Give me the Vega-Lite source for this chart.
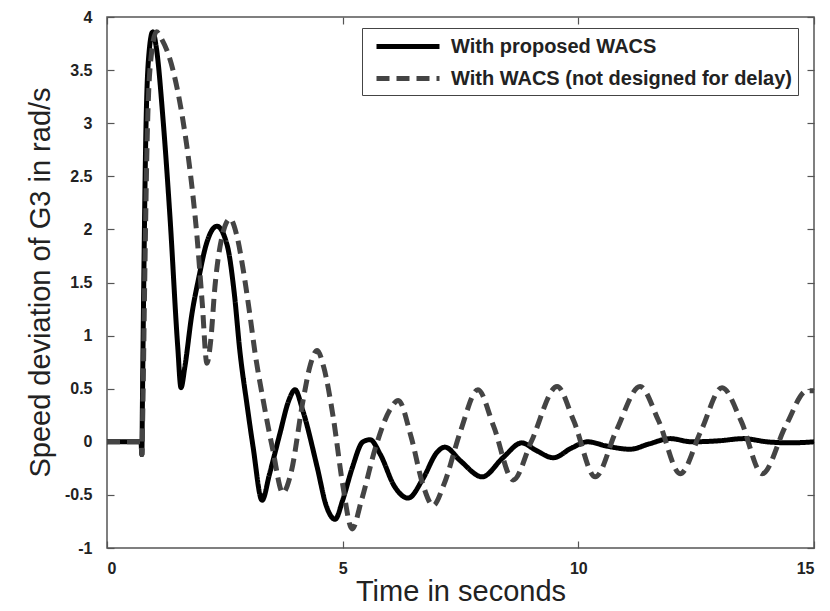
{
  "$schema": "https://vega.github.io/schema/vega-lite/v6.json",
  "width": 707,
  "height": 531,
  "autosize": {"type": "none"},
  "padding": {"left": 107, "top": 17, "right": 16, "bottom": 63},
  "background": "white",
  "config": {
    "view": {"stroke": "#555", "strokeWidth": 1.5},
    "font": "Liberation Sans",
    "axis": {
      "domain": false, "grid": false, "tickColor": "#555", "tickSize": -7, "tickWidth": 1.2,
      "labelFont": "Liberation Sans", "labelFontSize": 16, "labelFontWeight": "bold", "labelColor": "#222",
      "titleFont": "Liberation Sans", "titleFontSize": 29, "titleFontWeight": "normal", "titleColor": "#222"
    },
    "legend": {
      "labelFont": "Liberation Sans", "labelFontSize": 20, "labelFontWeight": "bold", "labelColor": "#222", "labelLimit": 0
    }
  },
  "data": {"values": [
    {"t": 0, "v": 0, "series": "With proposed WACS"},
    {"t": 0.72, "v": 0, "series": "With proposed WACS"},
    {"t": 0.74, "v": -0.12, "series": "With proposed WACS"},
    {"t": 0.75, "v": 0.3, "series": "With proposed WACS"},
    {"t": 0.78, "v": 1.5, "series": "With proposed WACS"},
    {"t": 0.82, "v": 2.8, "series": "With proposed WACS"},
    {"t": 0.88, "v": 3.6, "series": "With proposed WACS"},
    {"t": 0.97, "v": 3.86, "series": "With proposed WACS"},
    {"t": 1.05, "v": 3.7, "series": "With proposed WACS"},
    {"t": 1.19, "v": 3.03, "series": "With proposed WACS"},
    {"t": 1.34, "v": 2.09, "series": "With proposed WACS"},
    {"t": 1.5, "v": 0.9, "series": "With proposed WACS"},
    {"t": 1.57, "v": 0.51, "series": "With proposed WACS"},
    {"t": 1.65, "v": 0.7, "series": "With proposed WACS"},
    {"t": 1.8, "v": 1.2, "series": "With proposed WACS"},
    {"t": 1.95, "v": 1.55, "series": "With proposed WACS"},
    {"t": 2.1, "v": 1.85, "series": "With proposed WACS"},
    {"t": 2.33, "v": 2.03, "series": "With proposed WACS"},
    {"t": 2.55, "v": 1.85, "series": "With proposed WACS"},
    {"t": 2.7, "v": 1.4, "series": "With proposed WACS"},
    {"t": 2.82, "v": 0.85, "series": "With proposed WACS"},
    {"t": 2.97, "v": 0.35, "series": "With proposed WACS"},
    {"t": 3.1, "v": -0.05, "series": "With proposed WACS"},
    {"t": 3.29, "v": -0.55, "series": "With proposed WACS"},
    {"t": 3.45, "v": -0.3, "series": "With proposed WACS"},
    {"t": 3.67, "v": 0.08, "series": "With proposed WACS"},
    {"t": 3.85, "v": 0.38, "series": "With proposed WACS"},
    {"t": 3.99, "v": 0.49, "series": "With proposed WACS"},
    {"t": 4.15, "v": 0.3, "series": "With proposed WACS"},
    {"t": 4.46, "v": -0.24, "series": "With proposed WACS"},
    {"t": 4.65, "v": -0.6, "series": "With proposed WACS"},
    {"t": 4.84, "v": -0.73, "series": "With proposed WACS"},
    {"t": 5.0, "v": -0.55, "series": "With proposed WACS"},
    {"t": 5.2, "v": -0.25, "series": "With proposed WACS"},
    {"t": 5.43, "v": 0.0, "series": "With proposed WACS"},
    {"t": 5.58, "v": 0.02, "series": "With proposed WACS"},
    {"t": 5.8, "v": -0.12, "series": "With proposed WACS"},
    {"t": 6.1, "v": -0.42, "series": "With proposed WACS"},
    {"t": 6.39, "v": -0.53, "series": "With proposed WACS"},
    {"t": 6.7, "v": -0.35, "series": "With proposed WACS"},
    {"t": 7.0, "v": -0.1, "series": "With proposed WACS"},
    {"t": 7.17, "v": -0.05, "series": "With proposed WACS"},
    {"t": 7.5, "v": -0.18, "series": "With proposed WACS"},
    {"t": 7.96, "v": -0.33, "series": "With proposed WACS"},
    {"t": 8.4, "v": -0.15, "series": "With proposed WACS"},
    {"t": 8.8, "v": -0.01, "series": "With proposed WACS"},
    {"t": 9.1, "v": -0.08, "series": "With proposed WACS"},
    {"t": 9.47, "v": -0.15, "series": "With proposed WACS"},
    {"t": 9.85, "v": -0.06, "series": "With proposed WACS"},
    {"t": 10.2, "v": 0.0, "series": "With proposed WACS"},
    {"t": 10.6, "v": -0.04, "series": "With proposed WACS"},
    {"t": 11.1, "v": -0.07, "series": "With proposed WACS"},
    {"t": 11.5, "v": -0.02, "series": "With proposed WACS"},
    {"t": 11.95, "v": 0.03, "series": "With proposed WACS"},
    {"t": 12.4, "v": 0.0, "series": "With proposed WACS"},
    {"t": 13.0, "v": 0.01, "series": "With proposed WACS"},
    {"t": 13.5, "v": 0.03, "series": "With proposed WACS"},
    {"t": 14.0, "v": 0.0, "series": "With proposed WACS"},
    {"t": 14.5, "v": -0.01, "series": "With proposed WACS"},
    {"t": 15, "v": 0.0, "series": "With proposed WACS"},
    {"t": 0, "v": 0, "series": "With WACS (not designed for delay)"},
    {"t": 0.72, "v": 0, "series": "With WACS (not designed for delay)"},
    {"t": 0.74, "v": -0.12, "series": "With WACS (not designed for delay)"},
    {"t": 0.76, "v": 0.3, "series": "With WACS (not designed for delay)"},
    {"t": 0.8, "v": 1.5, "series": "With WACS (not designed for delay)"},
    {"t": 0.85, "v": 2.8, "series": "With WACS (not designed for delay)"},
    {"t": 0.93, "v": 3.6, "series": "With WACS (not designed for delay)"},
    {"t": 1.05, "v": 3.86, "series": "With WACS (not designed for delay)"},
    {"t": 1.15, "v": 3.8, "series": "With WACS (not designed for delay)"},
    {"t": 1.4, "v": 3.5, "series": "With WACS (not designed for delay)"},
    {"t": 1.61, "v": 3.03, "series": "With WACS (not designed for delay)"},
    {"t": 1.76, "v": 2.56, "series": "With WACS (not designed for delay)"},
    {"t": 1.91, "v": 1.93, "series": "With WACS (not designed for delay)"},
    {"t": 2.02, "v": 1.31, "series": "With WACS (not designed for delay)"},
    {"t": 2.12, "v": 0.74, "series": "With WACS (not designed for delay)"},
    {"t": 2.2, "v": 0.95, "series": "With WACS (not designed for delay)"},
    {"t": 2.29, "v": 1.46, "series": "With WACS (not designed for delay)"},
    {"t": 2.45, "v": 1.95, "series": "With WACS (not designed for delay)"},
    {"t": 2.61, "v": 2.1, "series": "With WACS (not designed for delay)"},
    {"t": 2.75, "v": 1.95, "series": "With WACS (not designed for delay)"},
    {"t": 2.89, "v": 1.62, "series": "With WACS (not designed for delay)"},
    {"t": 3.03, "v": 1.2, "series": "With WACS (not designed for delay)"},
    {"t": 3.14, "v": 0.84, "series": "With WACS (not designed for delay)"},
    {"t": 3.31, "v": 0.4, "series": "With WACS (not designed for delay)"},
    {"t": 3.52, "v": -0.08, "series": "With WACS (not designed for delay)"},
    {"t": 3.73, "v": -0.48, "series": "With WACS (not designed for delay)"},
    {"t": 3.9, "v": -0.3, "series": "With WACS (not designed for delay)"},
    {"t": 4.16, "v": 0.39, "series": "With WACS (not designed for delay)"},
    {"t": 4.3, "v": 0.7, "series": "With WACS (not designed for delay)"},
    {"t": 4.46, "v": 0.86, "series": "With WACS (not designed for delay)"},
    {"t": 4.6, "v": 0.7, "series": "With WACS (not designed for delay)"},
    {"t": 4.8, "v": 0.23, "series": "With WACS (not designed for delay)"},
    {"t": 5.0, "v": -0.4, "series": "With WACS (not designed for delay)"},
    {"t": 5.2, "v": -0.82, "series": "With WACS (not designed for delay)"},
    {"t": 5.4, "v": -0.55, "series": "With WACS (not designed for delay)"},
    {"t": 5.7, "v": -0.05, "series": "With WACS (not designed for delay)"},
    {"t": 6.0, "v": 0.3, "series": "With WACS (not designed for delay)"},
    {"t": 6.18, "v": 0.39, "series": "With WACS (not designed for delay)"},
    {"t": 6.45, "v": 0.05, "series": "With WACS (not designed for delay)"},
    {"t": 6.7, "v": -0.4, "series": "With WACS (not designed for delay)"},
    {"t": 6.92, "v": -0.6, "series": "With WACS (not designed for delay)"},
    {"t": 7.15, "v": -0.4, "series": "With WACS (not designed for delay)"},
    {"t": 7.5, "v": 0.1, "series": "With WACS (not designed for delay)"},
    {"t": 7.87, "v": 0.49, "series": "With WACS (not designed for delay)"},
    {"t": 8.2, "v": 0.15, "series": "With WACS (not designed for delay)"},
    {"t": 8.62, "v": -0.36, "series": "With WACS (not designed for delay)"},
    {"t": 9.0, "v": 0.0, "series": "With WACS (not designed for delay)"},
    {"t": 9.55, "v": 0.52, "series": "With WACS (not designed for delay)"},
    {"t": 9.9, "v": 0.2, "series": "With WACS (not designed for delay)"},
    {"t": 10.36, "v": -0.33, "series": "With WACS (not designed for delay)"},
    {"t": 10.8, "v": 0.1, "series": "With WACS (not designed for delay)"},
    {"t": 11.31, "v": 0.52, "series": "With WACS (not designed for delay)"},
    {"t": 11.7, "v": 0.2, "series": "With WACS (not designed for delay)"},
    {"t": 12.16, "v": -0.3, "series": "With WACS (not designed for delay)"},
    {"t": 12.6, "v": 0.1, "series": "With WACS (not designed for delay)"},
    {"t": 13.05, "v": 0.51, "series": "With WACS (not designed for delay)"},
    {"t": 13.45, "v": 0.2, "series": "With WACS (not designed for delay)"},
    {"t": 13.9, "v": -0.3, "series": "With WACS (not designed for delay)"},
    {"t": 14.4, "v": 0.15, "series": "With WACS (not designed for delay)"},
    {"t": 14.85, "v": 0.48, "series": "With WACS (not designed for delay)"},
    {"t": 15, "v": 0.48, "series": "With WACS (not designed for delay)"}
  ]},
  "layer": [
    {
      "mark": {"type": "line", "interpolate": "monotone", "strokeWidth": 5, "strokeCap": "butt", "clip": true},
      "encoding": {
        "x": {"field": "t", "type": "quantitative",
          "scale": {"domain": [0, 15], "nice": false, "zero": false},
          "axis": {"values": [0, 5, 10, 15], "title": "Time in seconds", "labelPadding": 32, "labelBaseline": "alphabetic", "titleBaseline": "alphabetic", "titleY": 52, "labelExpr": "toString(datum.value)"}},
        "y": {"field": "v", "type": "quantitative",
          "scale": {"domain": [-1, 4], "nice": false, "zero": false},
          "axis": {"values": [-1, -0.5, 0, 0.5, 1, 1.5, 2, 2.5, 3, 3.5, 4], "title": "Speed deviation of G3 in rad/s", "labelPadding": 22, "titleX": -52, "titleY": 265, "labelExpr": "toString(datum.value)"}},
        "color": {"field": "series", "type": "nominal",
          "scale": {"domain": ["With proposed WACS", "With WACS (not designed for delay)"], "range": ["#000000", "#444444"]},
          "legend": {"title": null, "orient": "none", "legendX": 255, "legendY": 11, "symbolType": "M-0.4,0H5.9", "symbolSize": 400, "symbolStrokeWidth": 5, "labelOffset": 58, "padding": 6, "rowPadding": 9, "strokeColor": "#444", "fillColor": "#ffffff", "cornerRadius": 0}},
        "strokeDash": {"field": "series", "type": "nominal",
          "scale": {"domain": ["With proposed WACS", "With WACS (not designed for delay)"], "range": [[1, 0], [13, 7]]},
          "legend": {"title": null}}
      }
    },
    {
      "mark": {"type": "line", "opacity": 0},
      "encoding": {
        "x": {"field": "t", "type": "quantitative", "axis": {"orient": "top", "values": [0, 5, 10, 15], "labels": false, "title": null}},
        "y": {"field": "v", "type": "quantitative", "axis": {"orient": "right", "values": [-1, -0.5, 0, 0.5, 1, 1.5, 2, 2.5, 3, 3.5, 4], "labels": false, "title": null}}
      }
    }
  ],
  "resolve": {"axis": {"x": "independent", "y": "independent"}}
}
